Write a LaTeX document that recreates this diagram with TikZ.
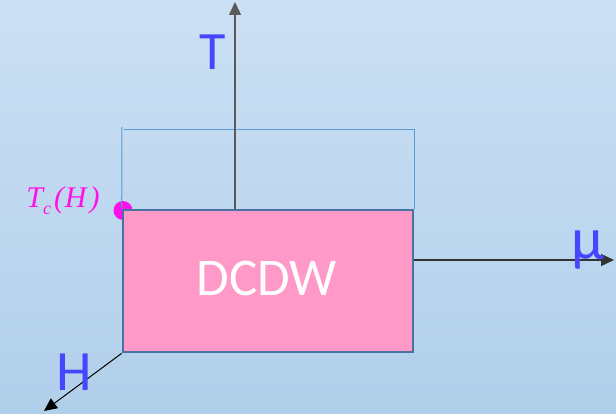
\documentclass[tikz,border=0pt]{standalone}
\usepackage{fontspec}
\setsansfont{Carlito}
\newfontfamily\zeitkursiv{Liberation Serif}
\usepackage{tikz}
\usetikzlibrary{arrows.meta, calc, positioning}
\definecolor{himmel}{HTML}{CCE0F4}
\definecolor{himmelunten}{HTML}{B0CFEA}
\definecolor{rosa}{HTML}{FF99C8}
\definecolor{rand}{HTML}{46739F}
\definecolor{linie}{HTML}{5B9BD5}
\definecolor{achse}{HTML}{4646FF}
\definecolor{pink}{HTML}{FF10E8}

\tikzset{
  achsenpfeil/.style={line width=1.4pt, -{Triangle[length=13pt, width=12pt]}},
  achsenname/.style={anchor=base, text=achse, font=\sffamily\fontsize{54}{54}\selectfont},
  phasenbox/.style={draw=rand, line width=2.6pt, fill=rosa, minimum width=290pt,
    minimum height=142pt, inner sep=0pt},
  phasengrenze/.style={linie, line width=1pt}
}

\begin{document}
\begin{tikzpicture}[x=1pt, y=-1pt]
      % --- Hintergrund ---
      \shade[top color=himmel, bottom color=himmelunten] (0,0) rectangle (616,414);
      \useasboundingbox (0,0) rectangle (616,414);

      % Punkt bei T_c(H) liegt hinter der Box
      \coordinate (ecke) at (123,210);
      \fill[pink] ($(ecke)+(0,0.5)$) circle (9.5);
      \node[anchor=base, text=pink, font=\zeitkursiv\itshape\fontsize{30}{30}\selectfont]
        (tc) at (63,208) {T\raisebox{-7pt}{\fontsize{18}{18}\selectfont c}\kern3pt(\kern1pt H\kern3pt)};

      % Phase DCDW
      \node[phasenbox] (box) at (268,281) {};
      \node[anchor=base, text=white, font=\sffamily\fontsize{53}{53}\selectfont]
        (dcdw) at (267,295) {DCDW};

      % Obere Grenze (duenne Linien)
      \coordinate (oben links) at (122,127);
      \coordinate (oben) at (124,130);
      \draw[phasengrenze] (box.north west) -- (oben links);
      \draw[phasengrenze] (oben) -| (box.north east);

      % Achsen
      \coordinate (tspitze) at (235,2);
      \coordinate (muspitze) at (614,260);
      \coordinate (hspitze) at (44,411);
      \draw[achsenpfeil, draw=black!65] (box.north -| tspitze) -- (tspitze);
      \draw[achsenpfeil, draw=black!80] (box.east |- muspitze) -- (muspitze);
      \draw[achsenpfeil, line width=1pt] (box.south west) -- (hspitze);

      % Achsenbeschriftung
      \node[achsenname] (tname) at (213,70) {T};
      \node[achsenname, font=\sffamily\fontsize{57}{57}\selectfont] (hname) at (74,390) {H};
      \node[achsenname, font=\sffamily\fontsize{60}{60}\selectfont] (muname) at (588,260) {μ};
    \end{tikzpicture}
\end{document}
